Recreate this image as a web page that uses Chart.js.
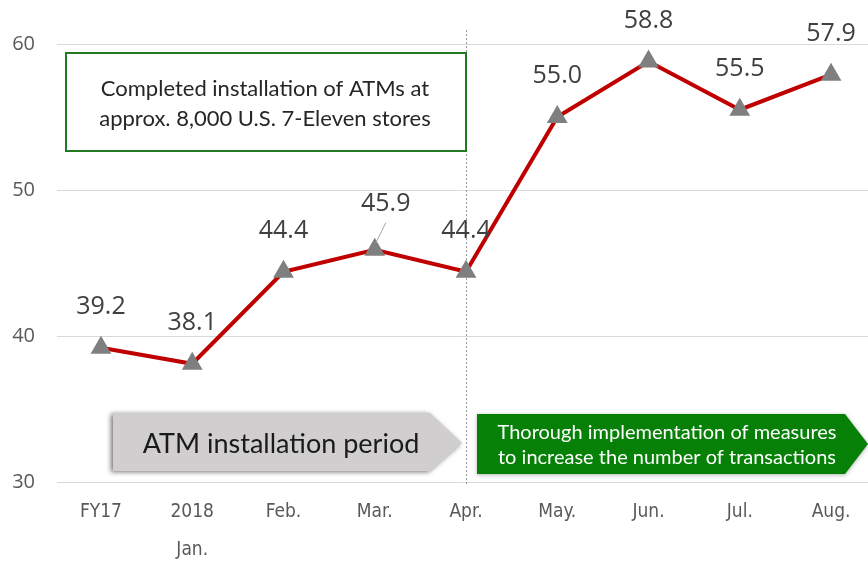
<!DOCTYPE html>
<html>
<head>
<meta charset="utf-8">
<script src="https://cdn.jsdelivr.net/npm/chart.js@4"></script>
<style>
  html, body { margin: 0; padding: 0; background: #fff; overflow: hidden; }
  #wrap { width: 868px; height: 564px; position: relative; }
  #atm { display: block; }
</style>
</head>
<body>
<div id="wrap"><canvas id="atm"></canvas></div>
<script>
// ATM transactions per day chart
const xLabels = ['FY17', ['2018', 'Jan.'], 'Feb.', 'Mar.', 'Apr.', 'May.', 'Jun.', 'Jul.', 'Aug.'];
const values = [39.2, 38.1, 44.4, 45.9, 44.4, 55.0, 58.8, 55.5, 57.9];
const yTicks = [30, 40, 50, 60];

const boxText = ['Completed installation of ATMs at', 'approx. 8,000 U.S. 7-Eleven stores'];
const grayArrowText = 'ATM installation period';
const greenArrowText = ['Thorough implementation of measures', 'to increase the number of transactions'];

// dashed separator at Apr.
const separator = {
    id: 'separator',
    beforeDatasetsDraw(chart) {
        const ctx = chart.ctx;
        const x = Math.round(chart.scales.x.getPixelForValue(4)) + 0.5;
        ctx.save();
        ctx.strokeStyle = '#9a9a9a';
        ctx.lineWidth = 1;
        ctx.setLineDash([2, 2]);
        ctx.beginPath();
        ctx.moveTo(x, 30);
        ctx.lineTo(x, chart.chartArea.bottom + 3);
        ctx.stroke();
        ctx.restore();
    }
};

// value labels above the triangles
const valueLabels = {
    id: 'valueLabels',
    afterDatasetsDraw(chart) {
        const ctx = chart.ctx;
        const meta = chart.getDatasetMeta(0);
        ctx.save();
        ctx.font = '25px "Open Sans"';
        ctx.fillStyle = '#404040';
        ctx.textAlign = 'center';
        ctx.textBaseline = 'middle';
        meta.data.forEach((pt, i) => {
            let dx = 0, dy = -41;
            if (i === 3) {
                dx = 11; dy = -46;
                ctx.strokeStyle = '#a6a6a6';
                ctx.lineWidth = 1;
                ctx.beginPath();
                ctx.moveTo(pt.x + 11, pt.y - 27);
                ctx.lineTo(pt.x + 1, pt.y - 7);
                ctx.stroke();
            }
            ctx.fillText(values[i].toFixed(1), pt.x + dx, pt.y + dy);
        });
        ctx.restore();
    }
};

// text box and the two period arrows
const annotations = {
    id: 'annotations',
    afterDraw(chart) {
        const ctx = chart.ctx;
        ctx.save();

        // green outlined box
        ctx.fillStyle = '#ffffff';
        ctx.fillRect(66, 53, 400, 98);
        ctx.strokeStyle = '#217a21';
        ctx.lineWidth = 2;
        ctx.strokeRect(66, 53, 400, 98);
        ctx.fillStyle = '#262626';
        ctx.font = '22px Lato';
        ctx.textAlign = 'center';
        ctx.textBaseline = 'middle';
        ctx.fillText(boxText[0], 265, 89);
        ctx.fillText(boxText[1], 265, 119);

        // gray arrow
        ctx.save();
        ctx.shadowColor = 'rgba(0,0,0,0.55)';
        ctx.shadowBlur = 5;
        ctx.shadowOffsetX = -2;
        ctx.shadowOffsetY = 1;
        ctx.fillStyle = '#d0cecf';
        ctx.beginPath();
        ctx.moveTo(113, 413);
        ctx.lineTo(430, 413);
        ctx.lineTo(462, 443);
        ctx.lineTo(430, 471);
        ctx.lineTo(113, 471);
        ctx.closePath();
        ctx.fill();
        ctx.restore();
        ctx.fillStyle = '#1a1a1a';
        ctx.font = '27px Lato';
        ctx.fillText(grayArrowText, 281, 444);

        // green arrow
        ctx.save();
        ctx.shadowColor = 'rgba(0,0,0,0.3)';
        ctx.shadowBlur = 4;
        ctx.shadowOffsetY = 1;
        ctx.fillStyle = '#068006';
        ctx.beginPath();
        ctx.moveTo(477, 414);
        ctx.lineTo(845, 414);
        ctx.lineTo(868, 444);
        ctx.lineTo(845, 474);
        ctx.lineTo(477, 474);
        ctx.closePath();
        ctx.fill();
        ctx.restore();
        ctx.fillStyle = '#ffffff';
        ctx.font = '20px Lato';
        ctx.fillText(greenArrowText[0], 667, 433);
        ctx.fillText(greenArrowText[1], 667, 458);

        ctx.restore();
    }
};

new Chart(document.getElementById('atm'), {
    type: 'line',
    data: {
        datasets: [{
            data: values.map((v, i) => ({ x: i, y: v })),
            borderColor: '#c00000',
            borderWidth: 4,
            pointStyle: 'triangle',
            pointRadius: 12,
            pointBackgroundColor: '#7f7f7f',
            pointBorderWidth: 0,
            tension: 0,
            clip: false
        }]
    },
    options: {
        responsive: true,
        maintainAspectRatio: false,
        animation: false,
        layout: { autoPadding: false, padding: { top: 44, right: 0, bottom: 0, left: 0 } },
        plugins: {
            legend: { display: false },
            tooltip: { enabled: false }
        },
        scales: {
            x: {
                type: 'linear',
                min: -0.482,
                max: 8.405,
                afterBuildTicks: (axis) => {
                    axis.ticks = xLabels.map((_, i) => ({ value: i }));
                },
                afterFit: (axis) => {
                    axis.height = 82;
                    axis.paddingLeft = 0;
                    axis.paddingRight = 0;
                },
                grid: { display: false, drawTicks: false },
                border: { display: false },
                ticks: {
                    autoSkip: false,
                    maxRotation: 0,
                    padding: 12,
                    color: '#595959',
                    font: { family: '"Liberation Sans Narrow", "DejaVu Sans Condensed", sans-serif', size: 19, lineHeight: 1.95 },
                    callback: (v) => xLabels[v]
                }
            },
            y: {
                min: 30,
                max: 60,
                afterBuildTicks: (axis) => {
                    axis.ticks = yTicks.map(v => ({ value: v }));
                },
                afterFit: (axis) => { axis.width = 57; },
                grid: { color: '#d9d9d9', drawTicks: false },
                border: { display: false },
                ticks: {
                    padding: 22,
                    color: '#595959',
                    font: { family: '"Open Sans"', size: 20 }
                }
            }
        }
    },
    plugins: [separator, valueLabels, annotations]
});
</script>
</body>
</html>
